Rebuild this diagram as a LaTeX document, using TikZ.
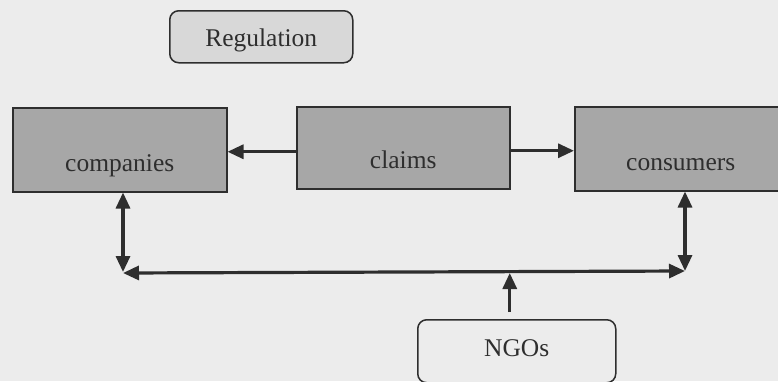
\documentclass[tikz,border=0pt]{standalone}
\usepackage{fontspec}
\setmainfont{Liberation Serif}
\usetikzlibrary{arrows.meta}

\definecolor{paper}{HTML}{ECECEC}
\definecolor{boxdark}{HTML}{A7A7A7}
\definecolor{boxlight}{HTML}{D8D8D8}
\definecolor{ink}{HTML}{2E2E2E}

\tikzset{
  actor/.style={draw=ink, line width=1.5pt, fill=boxdark, anchor=north west,
    inner sep=0pt, font=\fontsize{25.5}{30}\selectfont, text=ink},
  roundbox/.style={actor, rounded corners=9pt},
  link/.style={draw=ink, line width=3.2pt, -{Triangle[length=16pt,width=14pt]}},
  dlink/.style={draw=ink, line width=3.2pt,
    {Triangle[length=16pt,width=14pt]}-{Triangle[length=16pt,width=14pt]}},
}

\begin{document}
\begin{tikzpicture}[x=1pt, y=-1pt]
  % page and backdrop
  \useasboundingbox (0,0) rectangle (778,381);
  \fill[paper] (0,0) rectangle (778,381);

  % actors
  \node[roundbox, fill=boxlight, minimum width=183pt, text height=36pt, text depth=16pt]
    (reg) at (169,10) {Regulation};
  \node[actor, minimum width=214pt, text height=64pt, text depth=20pt]
    (companies) at (12,107) {companies};
  \node[actor, minimum width=213pt, text height=62pt, text depth=20pt]
    (claims) at (296,106) {claims};
  \node[actor, minimum width=212pt, text height=64pt, text depth=20pt]
    (consumers) at (574,106) {consumers};
  \node[roundbox, fill=paper, minimum width=198pt, text height=37pt, text depth=26pt]
    (ngos) at (417,319) {NGOs};

  % corners of the lower feedback loop
  \coordinate (cornerL) at (123,272);
  \coordinate (cornerR) at (685,271);

  % claims reach both sides
  \draw[link] ([yshift=-4pt]claims.west) -- ([yshift=-4pt]claims.west -| companies.east);
  \draw[link] ([yshift=-3pt]claims.east) -- ([yshift=-3pt]claims.east -| consumers.west);

  % feedback between companies and consumers
  \draw[dlink] (cornerL |- companies.south) -- (cornerL);
  \draw[dlink] (cornerR |- consumers.south) -- (cornerR);
  \draw[dlink] ([yshift=-1pt]cornerL) -- (cornerR);

  % NGOs feed into the loop
  \draw[link, shorten <=7pt] ([xshift=-7pt]ngos.north) -- ([xshift=-7pt,yshift=-1pt]ngos.north |- cornerL);
\end{tikzpicture}
\end{document}
